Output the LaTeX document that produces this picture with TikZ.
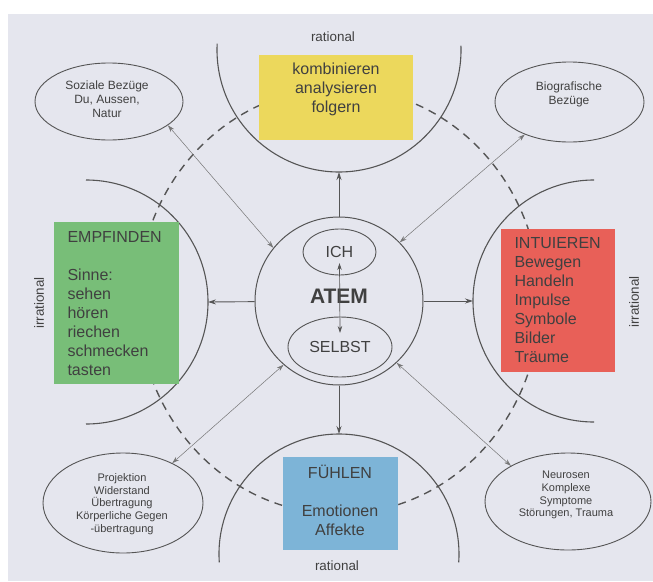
\documentclass[tikz,border=0pt]{standalone}
\usepackage{fontspec}
\setmainfont{Liberation Sans}
\usetikzlibrary{shapes.geometric,arrows.meta}
\definecolor{paper}{HTML}{E5E6EE}
\definecolor{ink}{HTML}{404040}
\definecolor{linegray}{HTML}{555555}
\definecolor{thingray}{HTML}{767676}
\definecolor{boxyellow}{HTML}{ECD85C}
\definecolor{boxgreen}{HTML}{78BE78}
\definecolor{boxred}{HTML}{E86058}
\definecolor{boxblue}{HTML}{7DB4D7}
\begin{document}
\begin{tikzpicture}[x=1pt,y=-1pt,
  every node/.style={text=ink},
  bigtext/.style={font=\fontsize{16}{19}\selectfont},
  smalltext/.style={font=\fontsize{12}{14}\selectfont, align=center},
  tinytext/.style={font=\fontsize{11}{12.8}\selectfont, align=center},
  sidetext/.style={font=\fontsize{13.4}{16}\selectfont},
  arcline/.style={draw=linegray, line width=1.1pt},
  ring/.style={draw=linegray, line width=1.4pt, dash pattern=on 8pt off 6pt},
  field/.style={draw=none, inner sep=0pt, rectangle},
  bubble/.style={draw=linegray, line width=0.9pt, ellipse, inner sep=0pt},
  mainarrow/.style={draw=linegray, line width=0.9pt, -{Stealth[length=8pt,width=5pt]}},
  link/.style={draw=thingray, line width=0.5pt, {Stealth[length=7pt,width=4.5pt]}-{Stealth[length=7pt,width=4.5pt]}},
  innerlink/.style={draw=linegray, line width=0.7pt, {Stealth[length=7pt,width=4.5pt]}-{Stealth[length=7pt,width=4.5pt]}}
]
% page and sheet
\useasboundingbox (0,0) rectangle (653,581);
\fill[white] (0,0) rectangle (653,581);
\fill[paper] (8,14) rectangle (653,581);

% dashed ring around the centre
\draw[ring] (339,301) ellipse [x radius=201pt, y radius=213pt];

% the four half circles
\coordinate (topc) at (339,50);
\coordinate (botc) at (339,554);
\coordinate (leftc) at (86,302);
\coordinate (rightc) at (594,301);
\draw[arcline] (topc) ++(2:122pt) arc[start angle=2, end angle=-183, radius=122pt];
\draw[arcline] (botc) ++(184:120pt) arc[start angle=184, end angle=-4, radius=120pt];
\draw[arcline] (leftc) ++(90:122pt) arc[start angle=90, end angle=-90, radius=122pt];
\draw[arcline] (rightc) ++(90:121pt) arc[start angle=90, end angle=270, radius=121pt];
\coordinate (topapex) at (339,172);
\coordinate (botapex) at (339,434);
\coordinate (leftapex) at (208,302);
\coordinate (rightapex) at (473,301);

% coloured fields
\node[field, fill=boxyellow, minimum width=154pt, minimum height=85pt] (yfield) at (336,97.5) {};
\node[field, fill=boxgreen, minimum width=125pt, minimum height=162pt] (gfield) at (116.5,303) {};
\node[field, fill=boxred, minimum width=114pt, minimum height=143pt] (rfield) at (558,300.5) {};
\node[field, fill=boxblue, minimum width=115pt, minimum height=93pt] (bfield) at (340.5,503.5) {};

\node[bigtext, align=center] (ytext) at (336,89) {kombinieren\\analysieren\\folgern};
\node[bigtext, align=left, anchor=west] (gtext) at (64,303.5) {EMPFINDEN\\[19pt]Sinne:\\sehen\\hören\\riechen\\schmecken\\tasten};
\node[bigtext, align=left, anchor=west] (rtext) at (511,300) {INTUIEREN\\Bewegen\\Handeln\\Impulse\\Symbole\\Bilder\\Träume};
\node[bigtext, align=center] (btext) at (340,500) {FÜHLEN\\[19pt]Emotionen\\Affekte};

% outer ellipses
\node[bubble, minimum width=148pt, minimum height=77pt] (soz) at (109,101.5) {};
\node[bubble, minimum width=149pt, minimum height=80pt] (bio) at (569.5,102) {};
\node[bubble, minimum width=160pt, minimum height=100pt] (proj) at (123,503) {};
\node[bubble, minimum width=166pt, minimum height=97pt] (neur) at (568,501.5) {};

\node[smalltext] (soztext) at (107,99) {Soziale Bezüge\\Du, Aussen,\\Natur};
\node[smalltext] (biotext) at (569,94.5) {Biografische\\Bezüge};
\node[tinytext] (projtext) at (122,504) {Projektion\\Widerstand\\Übertragung\\Körperliche Gegen\\-übertragung};
\node[tinytext] (neurtext) at (566,495) {Neurosen\\Komplexe\\Symptome\\Störungen, Trauma};

% centre
\node[draw=linegray, line width=1pt, circle, minimum size=168pt, inner sep=0pt] (atem) at (339,301) {};
\node[bubble, minimum width=73pt, minimum height=46pt, font=\fontsize{16}{19}\selectfont] (ich) at (339.5,252) {ICH};
\node[bubble, minimum width=104pt, minimum height=60pt, font=\fontsize{16}{19}\selectfont] (selbst) at (340,347) {SELBST};
\node[font=\bfseries\fontsize{21}{25}\selectfont] (atemtext) at (339,296) {ATEM};
\draw[innerlink] ([yshift=-11pt]ich.center) -- ([yshift=14pt]selbst.center);

% arrows to the four functions
\draw[mainarrow] (atem) -- (topapex);
\draw[mainarrow] (atem) -- (botapex);
\draw[mainarrow] (atem) -- (leftapex);
\draw[mainarrow] (atem) -- (rightapex);

% links to the outer ellipses
\draw[link] (soz.-22) -- (atem.141);
\draw[link] (bio.216) -- (atem.44);
\draw[link] (proj.39) -- (atem.229);
\draw[link] (neur.148) -- (atem.-47);

% axis labels
\node[sidetext] (rattop) at (333,37) {rational};
\node[sidetext] (ratbot) at (337,566) {rational};
\node[sidetext, rotate=90] (irrleft) at (39,303) {irrational};
\node[sidetext, rotate=90] (irrright) at (634,302) {irrational};
\end{tikzpicture}
\end{document}
